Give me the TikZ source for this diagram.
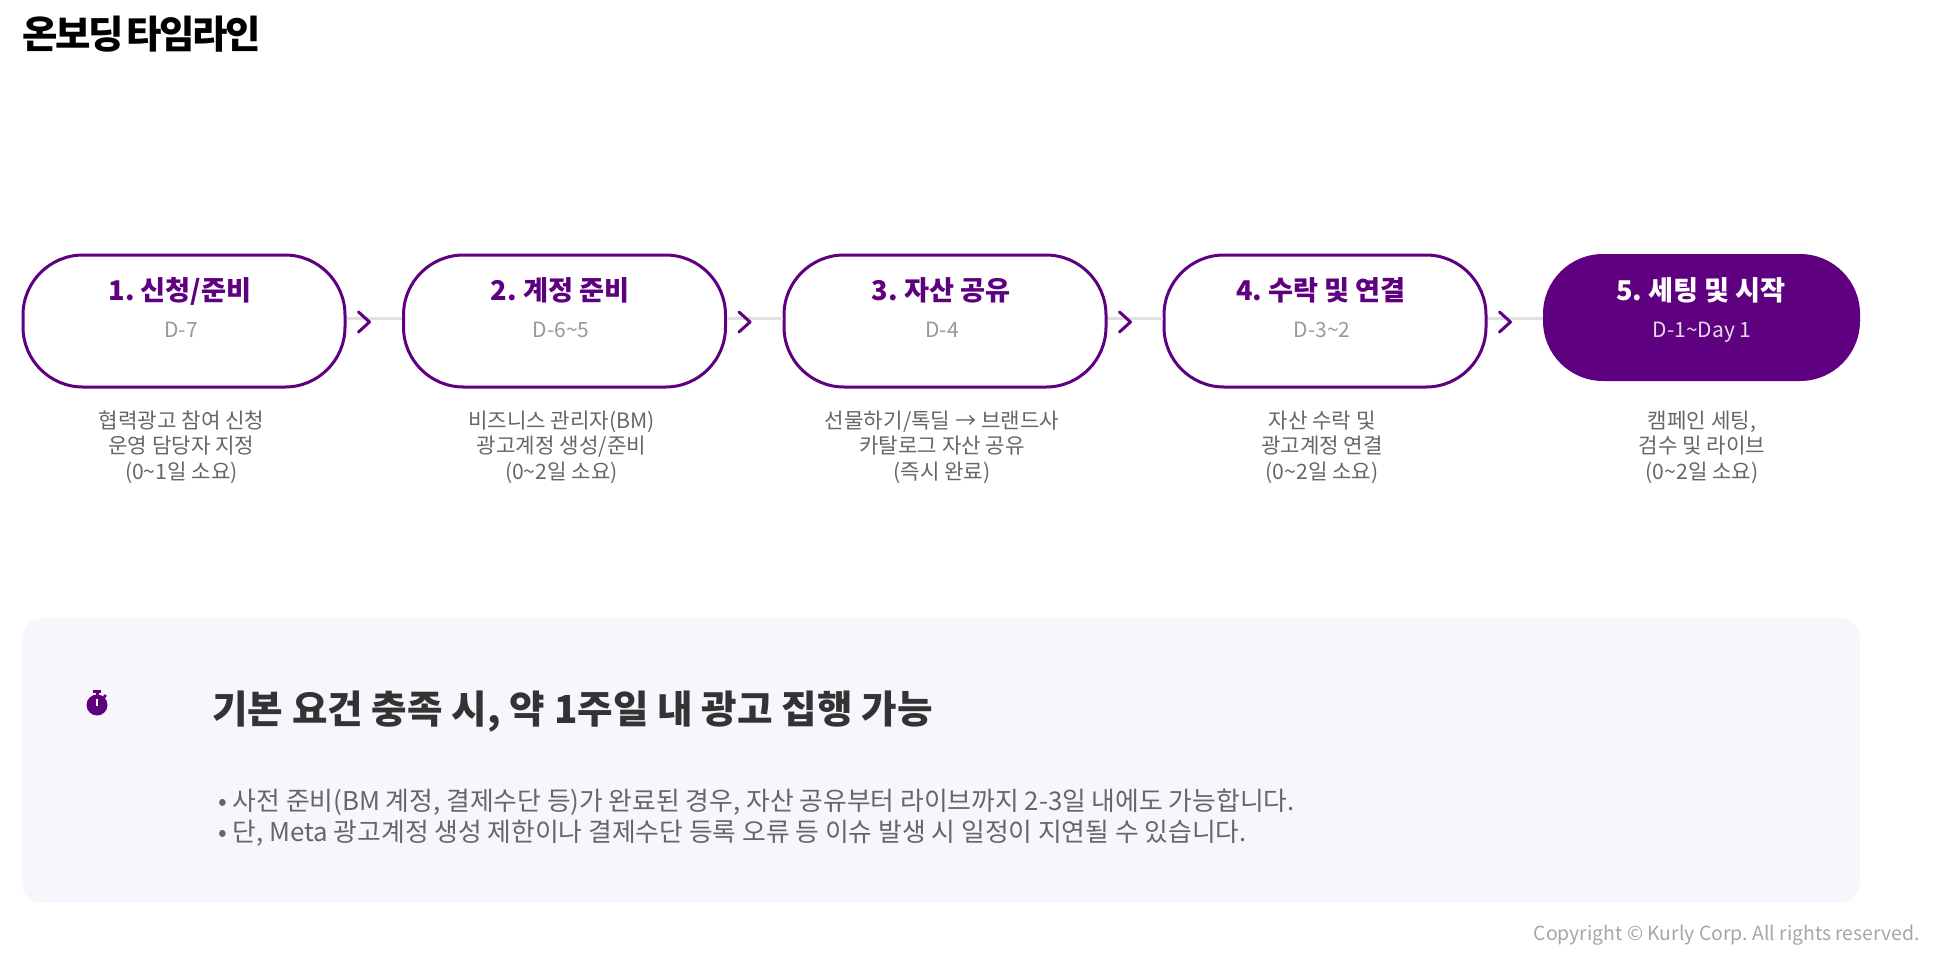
\documentclass[tikz,border=0pt]{standalone}
\usepackage{fontspec}
\setmainfont{Noto Sans CJK KR}
\newfontfamily\titlefont[LetterSpace=-6,WordSpace=0.4]{Noto Sans CJK KR}
\usepackage{tikz}
\usetikzlibrary{calc}
\definecolor{kurly}{HTML}{5F0080}
\definecolor{panelbg}{HTML}{F8F6FC}
\frenchspacing

\begin{document}
\begin{tikzpicture}[x=1pt,y=-1pt,
  pill/.style={draw=kurly, line width=3pt, fill=white, rounded corners=60pt, minimum width=322pt, minimum height=132pt},
  pillon/.style={fill=kurly, rounded corners=60pt, minimum width=317pt, minimum height=127pt},
  steptitle/.style={font=\fontsize{27.2}{30}\selectfont\bfseries, text=kurly, anchor=base},
  stepdate/.style={font=\fontsize{21}{24}\selectfont, text=black!40, anchor=base},
  caption/.style={font=\fontsize{21.2}{25.5}\selectfont, text=black!60, align=center, anchor=base},
  link/.style={draw=black!12, line width=3pt},
  chev/.style={draw=kurly, line width=3pt, line cap=round, line join=round}]
\useasboundingbox (0,0) rectangle (1933,956);
\node[font=\fontsize{38.5}{42}\titlefont\bfseries, anchor=base west, inner sep=0pt] (title) at (22,48) {온보딩 타임라인};
% steps
\node[pill] (p1) at (184,321) {};
\node[pill] (p2) at (564.5,321) {};
\node[pill] (p3) at (945,321) {};
\node[pill] (p4) at (1325,321) {};
\node[pillon] (p5) at (1701.5,317.5) {};
\foreach \a/\b in {p1/p2,p2/p3,p3/p4,p4/p5} {
  \draw[link] (\a.east |- 0,318) -- (\b.west |- 0,318);
  \draw[chev] ($(\a.east |- 0,322)+(12,-10)$) -- ++(11,10) -- ++(-11,10);
}
\foreach \i/\x/\t/\d in {1/180/{1. 신청/준비}/D-7,2/560/{2. 계정 준비}/D-6\textasciitilde5,3/941/{3. 자산 공유}/D-4,4/1321/{4. 수락 및 연결}/D-3\textasciitilde2} {
  \node[steptitle] (t\i) at (\x,300) {\t};
  \node[stepdate] (d\i) at ($(\x,337)+(1,0)$) {\d};
}
\node[steptitle, text=white] (t5) at (1701,300) {5. 세팅 및 시작};
\node[stepdate, text=white!85!kurly] (d5) at (1702,337) {D-1\textasciitilde Day 1};
\node[caption] (c1) at (181.5,479) {협력광고 참여 신청\\운영 담당자 지정\\(0\textasciitilde1일 소요)};
\node[caption] (c2) at (561.5,479) {비즈니스 관리자(BM)\\광고계정 생성/준비\\(0\textasciitilde2일 소요)};
\node[caption] (c3) at (942,479) {선물하기/톡딜 → 브랜드사\\카탈로그 자산 공유\\(즉시 완료)};
\node[caption] (c4) at (1322,479) {자산 수락 및\\광고계정 연결\\(0\textasciitilde2일 소요)};
\node[caption] (c5) at (1702,479) {캠페인 세팅,\\검수 및 라이브\\(0\textasciitilde2일 소요)};
% note panel
\fill[panelbg, rounded corners=20pt] (22,618) rectangle (1860,903);
\fill[kurly] (97,705) circle (10.5);
\fill[kurly] (93,690) rectangle (101,693);
\fill[kurly] (95.5,692) rectangle (98.5,696);
\draw[kurly, line width=2.5pt] (103,698) -- (106,695);
\draw[white, line width=2pt] (97,699) -- (97,706);
\node[font=\fontsize{38.6}{42}\selectfont\bfseries, text=black!80, anchor=base west, inner sep=0pt] (head) at (212,723) {기본 요건 충족 시, 약 1주일 내 광고 집행 가능};
\node[font=\fontsize{25.8}{31}\selectfont, text=black!60, align=left, anchor=base west, inner sep=0pt] (body) at (218,841) {• 사전 준비(BM 계정, 결제수단 등)가 완료된 경우, 자산 공유부터 라이브까지 2-3일 내에도 가능합니다.\\• 단, Meta 광고계정 생성 제한이나 결제수단 등록 오류 등 이슈 발생 시 일정이 지연될 수 있습니다.};
\node[font=\fontsize{19.4}{24}\selectfont, text=black!35, anchor=base east, inner sep=0pt] (foot) at (1920,940) {Copyright © Kurly Corp. All rights reserved.};
\end{tikzpicture}
\end{document}
